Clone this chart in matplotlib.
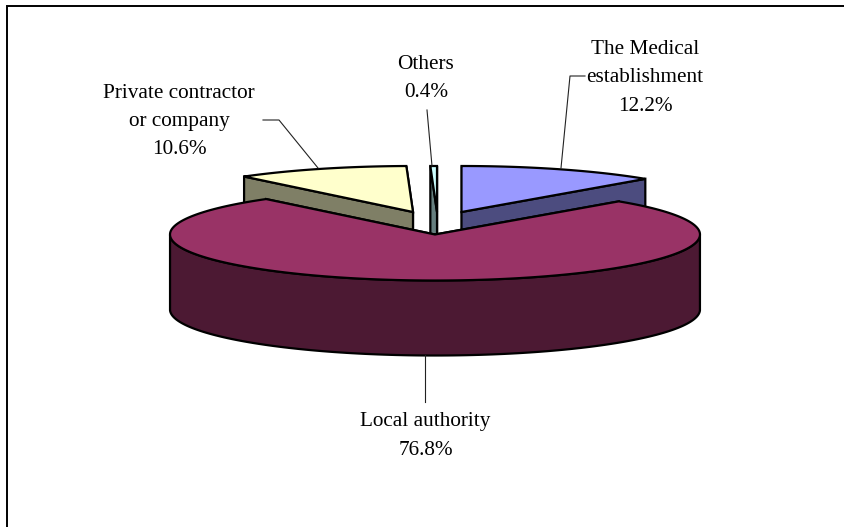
import numpy as np
import matplotlib
matplotlib.use("Agg")
import matplotlib.pyplot as plt

labels = ["The Medical\nestablishment", "Local authority", "Private contractor\nor company", "Others"]
values = [12.2, 76.8, 10.6, 0.4]
top_colors = ["#9999ff", "#993366", "#ffffcc", "#ccffff"]
side_colors = ["#4c4c7f", "#4c1933", "#7f7f66", "#667f7f"]

# order in the list above is clockwise from 12 o'clock, centres are in pixels
centers = [(461.5, 212), (435, 234.5), (413, 212), (437, 212)]
rx, ry, depth = 265, 46, 75
edge = dict(edgecolor="black", linewidth=1.6, joinstyle="miter")

plt.rcParams["font.family"] = ["Liberation Serif", "DejaVu Serif"]

fig = plt.figure(figsize=(8.44, 5.27), dpi=100)
ax = fig.add_axes([0, 0, 1, 1])
ax.set_xlim(0, 844)
ax.set_ylim(527, 0)
ax.axis("off")

ends = np.cumsum(values) / sum(values) * 2 * np.pi
starts = ends - np.array(values) / sum(values) * 2 * np.pi


def rim(i, n=200):
    t = np.linspace(starts[i], ends[i], n)
    cx, cy = centers[i]
    return cx + rx * np.sin(t), cy - ry * np.cos(t), t


def draw_slice(i, z):
    x, y, t = rim(i)
    cx, cy = centers[i]
    # cut faces first, the one nearest the viewer goes last
    for k in sorted((0, -1), key=lambda j: y[j]):
        ax.fill([cx, x[k], x[k], cx], [cy, y[k], y[k] + depth, cy + depth],
                facecolor=side_colors[i], zorder=z, **edge)
    # outer wall, only the part that faces the viewer
    front = np.cos(t) <= 0
    if front.any():
        xf, yf = x[front], y[front]
        ax.fill(np.r_[xf, xf[::-1]], np.r_[yf, yf[::-1] + depth],
                facecolor=side_colors[i], zorder=z + 0.1, **edge)
    ax.fill(np.r_[cx, x], np.r_[cy, y], facecolor=top_colors[i], zorder=z + 0.2, **edge)


draw_slice(0, 2)
draw_slice(2, 3)
draw_slice(3, 4)
draw_slice(1, 5)

# frame, only the left and top sides are in the picture
ax.plot([6.5, 6.5, 844], [527, 6, 6], color="black", lw=1.4, zorder=1, solid_joinstyle="miter")

# leader lines
leaders = [
    ([585, 570, 561], [76, 76, 168]),
    ([425, 425], [355, 402]),
    ([263, 279, 318], [120, 120, 168]),
    ([427, 432], [110, 166]),
]
for lx, ly in leaders:
    ax.plot(lx, ly, color="#222222", lw=0.8, zorder=10)

label_pos = [(645, 78), (425.5, 436), (179, 121.5), (426, 78.5)]
for name, val, (tx, ty) in zip(labels, values, label_pos):
    ax.text(tx, ty, f"{name}\n{val}%", ha="center", va="center", fontsize=15.3,
            linespacing=1.67, color="black", zorder=11)

fig.savefig("out.png", dpi=100)
